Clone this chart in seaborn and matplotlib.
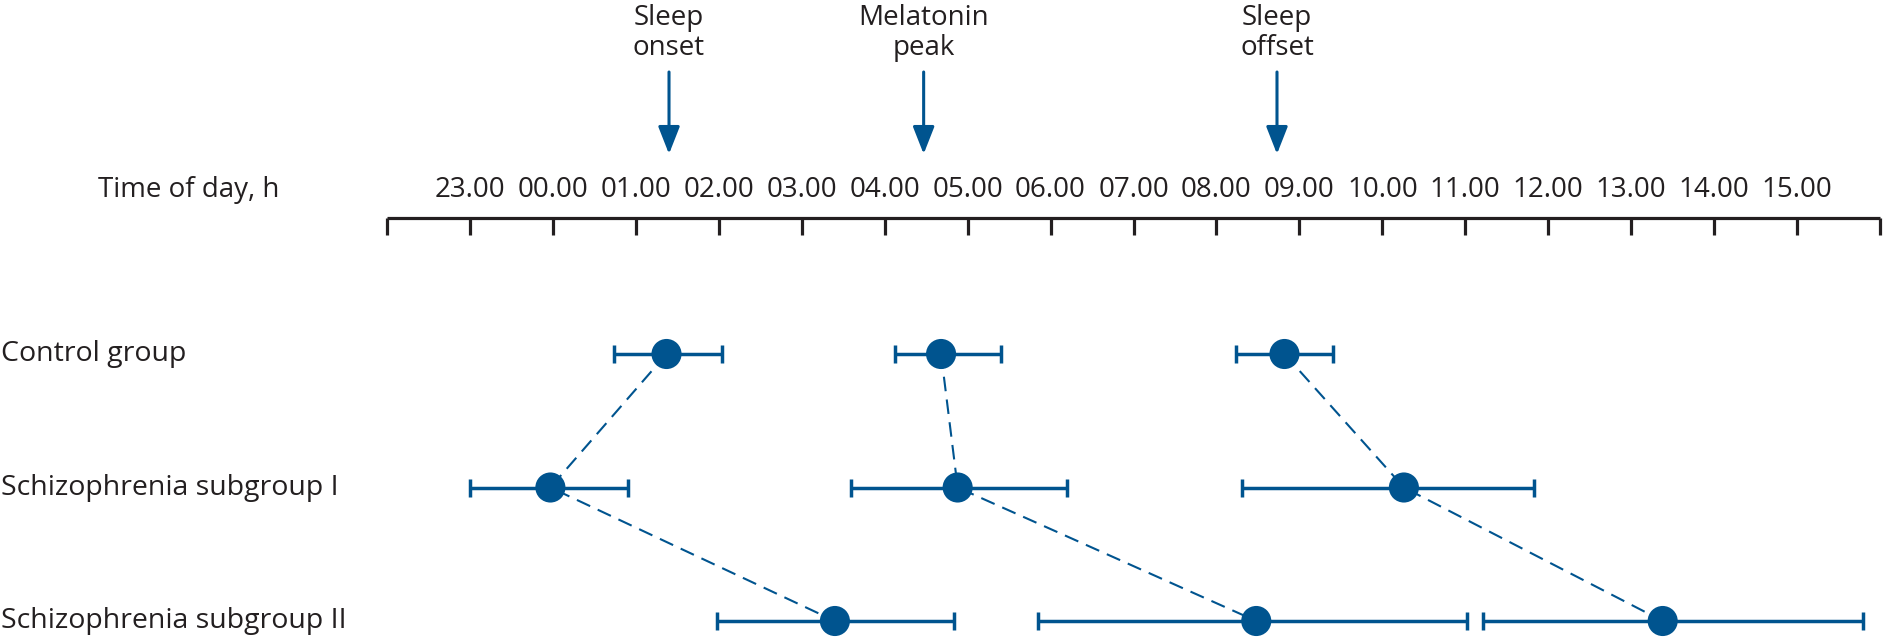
import numpy as np
import pandas as pd
import matplotlib.pyplot as plt
import seaborn as sns

# Groups (rows) and events
groups = ["Control group", "Schizophrenia subgroup I", "Schizophrenia subgroup II"]
events = ["Sleep onset", "Melatonin peak", "Sleep offset"]

# Clock time in hours, counted on past midnight (25 = 01.00 next day)
onset_mean = [25.37, 23.97, 27.40]
onset_lo = [24.74, 23.00, 25.98]
onset_hi = [26.04, 24.90, 28.83]

mel_mean = [28.68, 28.88, 32.48]
mel_lo = [28.12, 27.59, 29.85]
mel_hi = [29.40, 30.20, 35.02]

offset_mean = [32.82, 34.26, 37.38]
offset_lo = [32.24, 32.31, 35.21]
offset_hi = [33.41, 35.83, 39.80]

# Arrows on top of the time axis
arrow_x = [25.40, 28.47, 32.73]
arrow_labels = ["Sleep\nonset", "Melatonin\npeak", "Sleep\noffset"]

# Time axis ticks
hours = np.arange(22, 41)
labeled_hours = np.arange(23, 40)

blue = "#00548f"
ink = "#231f20"

# Long table for seaborn
rows = []
for ev, m, lo, hi in zip(events,
                         [onset_mean, mel_mean, offset_mean],
                         [onset_lo, mel_lo, offset_lo],
                         [onset_hi, mel_hi, offset_hi]):
    for i, g in enumerate(groups):
        rows.append({"event": ev, "group": g, "row": i,
                     "mean": m[i], "lo": lo[i], "hi": hi[i]})
df = pd.DataFrame(rows)

sns.set_theme(style="white")
plt.rcParams["font.family"] = ["Open Sans", "DejaVu Sans"]

fig = plt.figure(figsize=(18.84, 6.39), dpi=100)
ax = fig.add_axes([0, 0, 1, 1])
ax.axis("off")

# pixel -> data helpers for layout
px_per_h = (1880 - 387) / 18
x0 = 22 - 387 / px_per_h
row_px = 133.5


def ypx(p):
    return (p - 354) / row_px


# time axis
ax.plot([hours[0], hours[-1]], [ypx(218), ypx(218)], color=ink, lw=2.3,
        solid_capstyle="butt")
ax.vlines(hours, ypx(218), ypx(235), color=ink, lw=2.3)
for h in labeled_hours:
    ax.text(h, ypx(190), "%02d.00" % (h % 24), ha="center", va="center",
            fontsize=20, color=ink)
ax.text(x0 + 98 / px_per_h, ypx(190), "Time of day, h", ha="left", va="center",
        fontsize=20, color=ink)

# arrows with labels
for xa, lab in zip(arrow_x, arrow_labels):
    ax.annotate("", xy=(xa, ypx(154)), xytext=(xa, ypx(72)),
                arrowprops=dict(arrowstyle="-|>,head_length=1.4,head_width=0.55",
                                color=blue, lw=2.2, shrinkA=0, shrinkB=0))
    ax.text(xa, ypx(33), lab, ha="center", va="center", fontsize=20,
            color=ink, linespacing=1.12)

# group labels
for i, g in enumerate(groups):
    ax.text(x0 + 1 / px_per_h, i, g, ha="left", va="center", fontsize=20.5,
            color=ink)

# dashed connectors
for ev in events:
    sub = df[df["event"] == ev]
    sns.lineplot(data=sub, x="mean", y="row", sort=False, estimator=None,
                 color=blue, lw=1.5, dashes=False, ax=ax, zorder=1,
                 linestyle=(0, (7, 4)))

# error bars
ax.errorbar(df["mean"], df["row"],
            xerr=[df["mean"] - df["lo"], df["hi"] - df["mean"]],
            fmt="none", ecolor=blue, elinewidth=2.5, capsize=6.5,
            capthick=2.5, zorder=2)

# means
sns.scatterplot(data=df, x="mean", y="row", s=470, color=blue,
                edgecolor="none", ax=ax, zorder=3, legend=False)

ax.set_xlabel("")
ax.set_ylabel("")
ax.set_xlim(x0, x0 + 1884 / px_per_h)
ax.set_ylim(ypx(639), ypx(0))

fig.savefig("out.png", dpi=100)
